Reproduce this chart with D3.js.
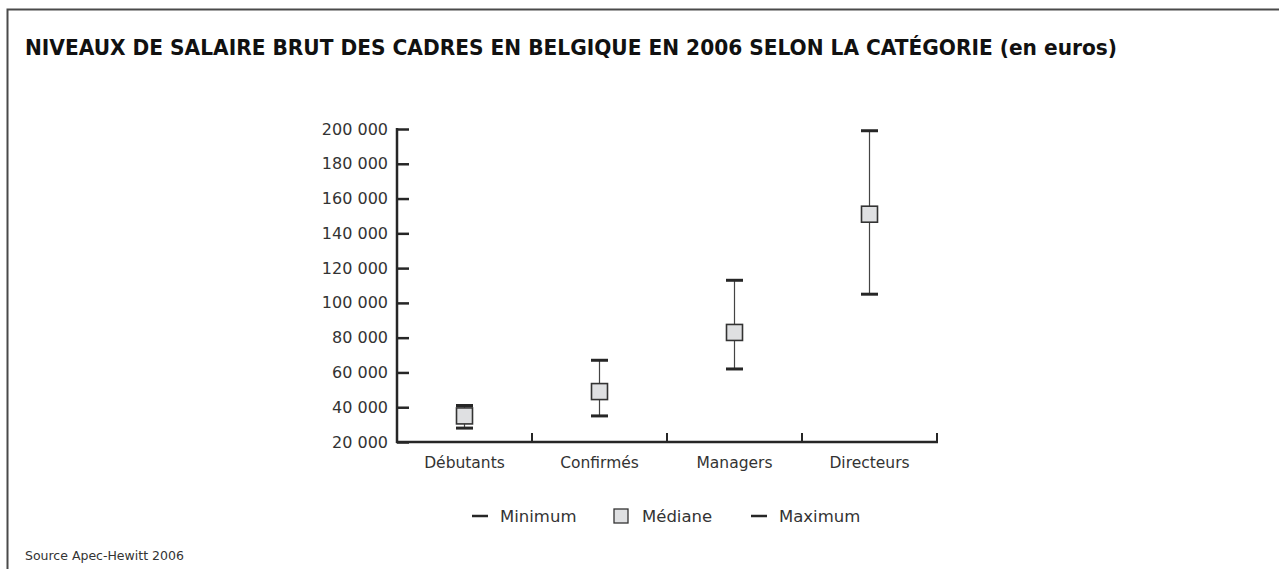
<!DOCTYPE html>
<html>
<head>
<meta charset="utf-8">
<script src="https://cdn.jsdelivr.net/npm/d3@7"></script>
<style>
  body { margin: 0; background: #fff; }
  svg { display: block; font-family: "DejaVu Sans", sans-serif; }
</style>
</head>
<body>
<div id="chart"></div>
<script>
const categories = ["Débutants", "Confirmés", "Managers", "Directeurs"];
const minimum = [28000, 35000, 62000, 105000];
const mediane = [35000, 49000, 83000, 151000];
const maximum = [41000, 67000, 113000, 199000];
const yTicks = [20000, 40000, 60000, 80000, 100000, 120000, 140000, 160000, 180000, 200000];
const legendLabels = ["Minimum", "Médiane", "Maximum"];

const W = 1279, H = 569;
const dark = "#262626";

const svg = d3.select("#chart")
    .append("svg")
    .attr("width", W)
    .attr("height", H);

// cadre
svg.append("path")
    .attr("d", `M7.5,${H} V9.5 H${W}`)
    .attr("fill", "none")
    .attr("stroke", "#4a4a4a")
    .attr("stroke-width", 2);

// titre
const title = svg.append("text")
    .attr("x", 25)
    .attr("y", 55)
    .attr("font-family", "'DejaVu Sans Condensed', 'DejaVu Sans', sans-serif")
    .attr("font-size", 22)
    .attr("font-weight", "bold")
    .attr("fill", "#111")
    .attr("textLength", 1092)
    .attr("lengthAdjust", "spacingAndGlyphs");
title.append("tspan").text("NIVEAUX DE SALAIRE BRUT DES CADRES EN BELGIQUE EN 2006 SELON LA CATÉGORIE ");
title.append("tspan").text("(en euros)");

const x0 = 397, x1 = 937, yTop = 129, yBot = 442;

const yScale = d3.scaleLinear()
    .domain([20000, 200000])
    .range([yBot, yTop]);

const xScale = d3.scaleBand()
    .domain(categories)
    .range([x0, x1]);

const fmt = v => d3.format(",")(v).replace(/,/g, " ");

// axe Y
const yAxis = svg.append("g")
    .attr("transform", `translate(${x0},0)`)
    .call(d3.axisRight(yScale)
        .tickValues(yTicks)
        .tickSize(12)
        .tickFormat(""));
yAxis.select(".domain").remove();
yAxis.selectAll("line").attr("stroke", dark).attr("stroke-width", 2.5);

svg.append("line")
    .attr("x1", x0).attr("x2", x0)
    .attr("y1", yTop - 1).attr("y2", yBot + 1)
    .attr("stroke", dark).attr("stroke-width", 2.5);

svg.append("g")
    .selectAll("text")
    .data(yTicks)
    .enter()
    .append("text")
    .attr("x", 388)
    .attr("y", d => yScale(d))
    .attr("dy", "0.35em")
    .attr("text-anchor", "end")
    .attr("font-size", 16)
    .attr("fill", "#333")
    .text(d => fmt(d));

// axe X
svg.append("line")
    .attr("x1", x0 - 1).attr("x2", x1 + 1)
    .attr("y1", yBot).attr("y2", yBot)
    .attr("stroke", dark).attr("stroke-width", 2.5);

svg.append("g")
    .selectAll("line")
    .data(categories)
    .enter()
    .append("line")
    .attr("x1", d => xScale(d) + xScale.bandwidth())
    .attr("x2", d => xScale(d) + xScale.bandwidth())
    .attr("y1", yBot)
    .attr("y2", yBot - 9)
    .attr("stroke", dark)
    .attr("stroke-width", 2);

svg.append("g")
    .selectAll("text")
    .data(categories)
    .enter()
    .append("text")
    .attr("x", d => xScale(d) + xScale.bandwidth() / 2)
    .attr("y", 468)
    .attr("text-anchor", "middle")
    .attr("font-size", 15.5)
    .attr("fill", "#333")
    .text(d => d);

// barres min-max
const data = categories.map((c, i) => ({ c, min: minimum[i], med: mediane[i], max: maximum[i] }));
const cx = d => xScale(d.c) + xScale.bandwidth() / 2;
const capW = 17, boxW = 16;

const marks = svg.append("g");

marks.selectAll(".stem")
    .data(data)
    .enter()
    .append("line")
    .attr("x1", cx).attr("x2", cx)
    .attr("y1", d => yScale(d.max))
    .attr("y2", d => yScale(d.min))
    .attr("stroke", "#444")
    .attr("stroke-width", 1.2);

marks.selectAll(".capmax")
    .data(data)
    .enter()
    .append("line")
    .attr("x1", d => cx(d) - capW / 2).attr("x2", d => cx(d) + capW / 2)
    .attr("y1", d => yScale(d.max)).attr("y2", d => yScale(d.max))
    .attr("stroke", dark).attr("stroke-width", 3);

marks.selectAll(".capmin")
    .data(data)
    .enter()
    .append("line")
    .attr("x1", d => cx(d) - capW / 2).attr("x2", d => cx(d) + capW / 2)
    .attr("y1", d => yScale(d.min)).attr("y2", d => yScale(d.min))
    .attr("stroke", dark).attr("stroke-width", 3);

marks.selectAll("rect")
    .data(data)
    .enter()
    .append("rect")
    .attr("x", d => cx(d) - boxW / 2)
    .attr("y", d => yScale(d.med) - boxW / 2)
    .attr("width", boxW)
    .attr("height", boxW)
    .attr("fill", "#dfe0e2")
    .attr("stroke", "#333")
    .attr("stroke-width", 1.6);

// légende
const legY = 516;
const leg = svg.append("g").attr("font-size", 16.5).attr("fill", "#333");
const legX = [472, 614, 751];

leg.append("line")
    .attr("x1", legX[0]).attr("x2", legX[0] + 16)
    .attr("y1", legY).attr("y2", legY)
    .attr("stroke", dark).attr("stroke-width", 2.5);
leg.append("rect")
    .attr("x", legX[1]).attr("y", legY - 7)
    .attr("width", 14).attr("height", 14)
    .attr("fill", "#dfe0e2").attr("stroke", "#333").attr("stroke-width", 1.3);
leg.append("line")
    .attr("x1", legX[2]).attr("x2", legX[2] + 16)
    .attr("y1", legY).attr("y2", legY)
    .attr("stroke", dark).attr("stroke-width", 2.5);

leg.selectAll("text")
    .data(legendLabels)
    .enter()
    .append("text")
    .attr("x", (d, i) => legX[i] + 28)
    .attr("y", legY)
    .attr("dy", "0.35em")
    .text(d => d);

// source
svg.append("text")
    .attr("x", 25)
    .attr("y", 560)
    .attr("font-size", 12.5)
    .attr("fill", "#333")
    .text("Source Apec-Hewitt 2006");
</script>
</body>
</html>
